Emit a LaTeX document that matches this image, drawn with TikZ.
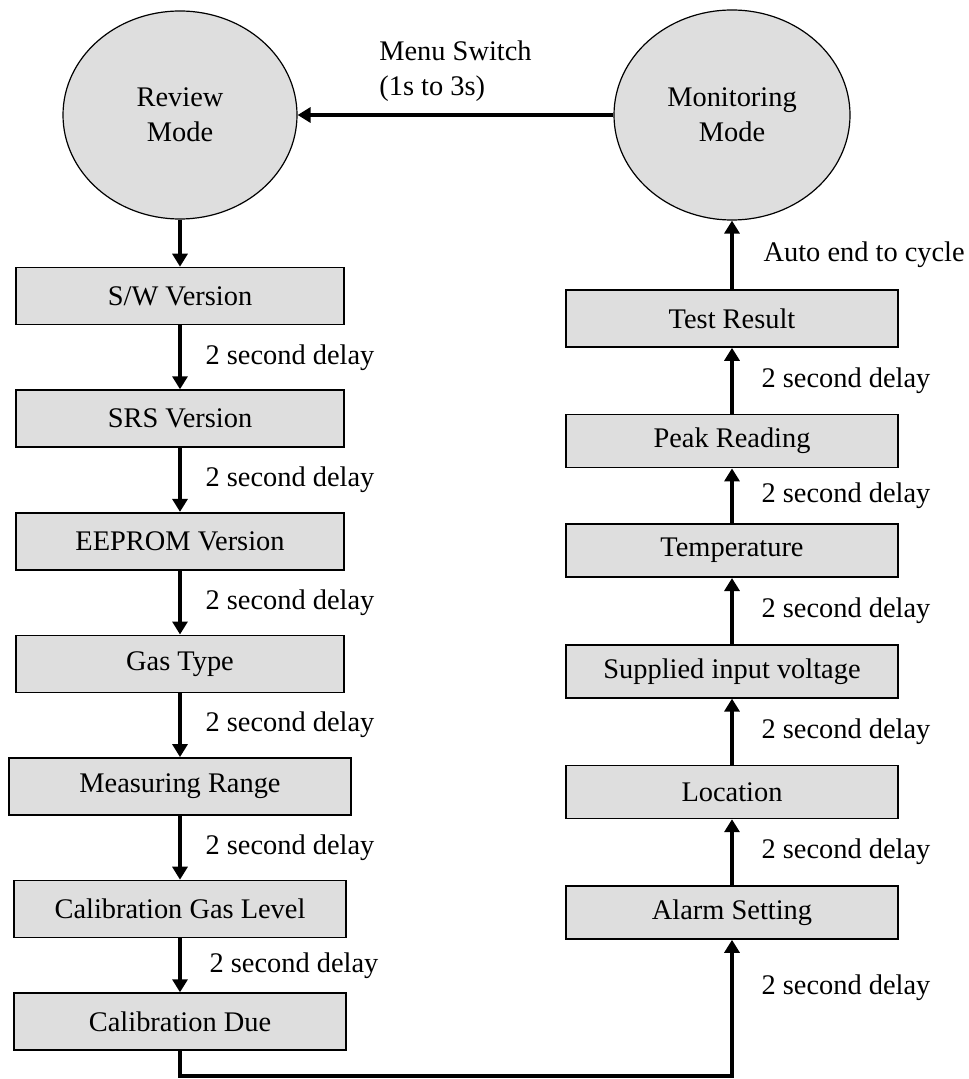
\documentclass[tikz,border=0pt]{standalone}
\usepackage{fontspec}
\setmainfont{Liberation Serif}
\usetikzlibrary{positioning,arrows.meta,shapes.geometric}
\definecolor{boxgray}{RGB}{222,222,222}

\begin{document}
\begin{tikzpicture}[
		x=0.5pt, y=-0.5pt,
		node distance=32pt,
		font=\fontsize{14.2pt}{17.5pt}\selectfont,
		mode/.style={draw, ellipse, fill=boxgray, line width=0.6pt, align=center, minimum width=117pt, minimum height=104pt, inner sep=0pt},
		stepbox/.style={draw, fill=boxgray, line width=0.8pt, align=center, minimum width=166pt, minimum height=28.5pt, inner sep=0pt},
		delay/.style={anchor=west, inner sep=0pt, xshift=12pt},
		arr/.style={-{Triangle[length=6.5pt, width=7.5pt]}, line width=1.6pt}
		]
		\useasboundingbox (0,0) rectangle (968,1079);
		
		\node[mode] (review) at (180,115) {Review\\Mode};
		\node[mode, minimum width=118pt, minimum height=105pt] (monitor) at (732,115) {Monitoring\\Mode};
		
		% review side
		\node[stepbox, minimum width=164pt] (sw) at (180,296) {S/W Version};
		\node[stepbox, minimum width=164pt, below=of sw] (srs) {SRS Version};
		\node[stepbox, minimum width=164pt, below=of srs] (eeprom) {EEPROM Version};
		\node[stepbox, minimum width=164pt, below=of eeprom] (gas) {Gas Type};
		\node[stepbox, minimum width=171pt, below=of gas] (range) {Measuring Range};
		\node[stepbox, below=of range] (calgas) {Calibration Gas Level};
		\node[stepbox, below=27pt of calgas] (caldue) {Calibration Due};
		
		% monitoring side
		\node[stepbox, minimum height=26.5pt] (alarm) at (732,912.5) {Alarm Setting};
		\node[stepbox, minimum height=26.5pt, above=33pt of alarm] (location) {Location};
		\node[stepbox, minimum height=26.5pt, above=33pt of location] (voltage) {Supplied input voltage};
		\node[stepbox, minimum height=26.5pt, above=33pt of voltage] (temp) {Temperature};
		\node[stepbox, minimum height=26.5pt, above=27.5pt of temp] (peak) {Peak Reading};
		\node[stepbox, above=33pt of peak] (test) {Test Result};
		
		\coordinate (base) at (450,1076);
		
		\draw[arr] (monitor) -- node[anchor=south, align=left, inner sep=0pt, yshift=6pt] {Menu Switch\\(1s to 3s)} (review);
		\draw[arr] (review) -- (sw);
		\draw[arr] (sw) -- node[delay] {2 second delay} (srs);
		\draw[arr] (srs) -- node[delay] {2 second delay} (eeprom);
		\draw[arr] (eeprom) -- node[delay] {2 second delay} (gas);
		\draw[arr] (gas) -- node[delay] {2 second delay} (range);
		\draw[arr] (range) -- node[delay] {2 second delay} (calgas);
		\draw[arr] (calgas) -- node[delay, xshift=2pt] {2 second delay} (caldue);
		\draw[arr] (caldue) -- (caldue |- base) -- (alarm |- base) -- node[delay, pos=0.65, xshift=2pt] {2 second delay} (alarm);
		\draw[arr] (alarm) -- node[delay, xshift=2pt] {2 second delay} (location);
		\draw[arr] (location) -- node[delay, xshift=2pt] {2 second delay} (voltage);
		\draw[arr] (voltage) -- node[delay, xshift=2pt] {2 second delay} (temp);
		\draw[arr] (temp) -- node[delay, xshift=2pt] {2 second delay} (peak);
		\draw[arr] (peak) -- node[delay, xshift=2pt] {2 second delay} (test);
		\draw[arr] (test) -- node[delay, xshift=3pt] {Auto end to cycle} (monitor);
	\end{tikzpicture}
\end{document}
